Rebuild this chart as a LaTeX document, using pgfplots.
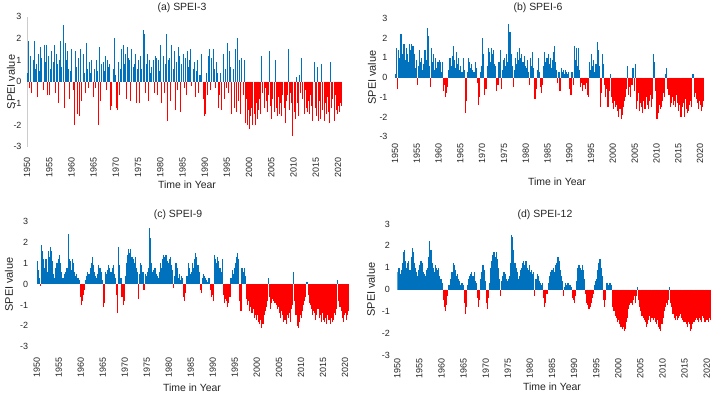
\documentclass[border=0pt]{standalone}
\usepackage{fontspec}
\setmainfont{Liberation Sans}
\usepackage{pgfplots}
\usepackage{pgfplotstable}
\pgfplotsset{compat=1.18}
\definecolor{mblue}{RGB}{0,114,189}
\definecolor{mred}{RGB}{255,0,0}

\pgfplotstableread{
yr q1 q2 q3 q4
1950 0.4 1.9 -0.3 1.2
1951 -0.5 1.0 1.9 0.6
1952 0.8 -0.7 1.3 0.5
1953 1.6 1.1 -0.4 1.7
1954 0.9 1.7 -0.6 1.2
1955 -0.6 0.6 1.4 0.9
1956 1.7 -0.5 1.3 0.8
1957 -1.0 1.0 1.9 0.7
1958 2.6 -1.2 1.8 1.0
1959 1.4 0.6 -0.8 0.5
1960 1.5 -0.4 -2.0 1.4
1961 0.7 -1.5 1.1 -1.6
1962 1.5 -0.9 1.3 0.4
1963 -0.5 1.8 0.6 -0.3
1964 0.9 0.4 1.0 -0.7
1965 0.6 -0.3 1.0 0.5
1966 -2.0 1.6 -0.9 0.8
1967 0.9 0.5 1.2 -0.4
1968 1.0 0.7 0.8 -1.3
1969 -1.1 0.6 2.0 0.3
1970 -1.2 -1.3 0.9 -0.6
1971 0.6 1.5 1.7 0.8
1972 1.3 -0.8 1.6 1.1
1973 1.0 -0.9 1.5 0.7
1974 0.8 1.3 -1.0 0.6
1975 1.0 -1.0 1.2 0.6
1976 2.4 2.2 -0.5 0.8
1977 1.3 -0.9 1.0 0.4
1978 0.7 1.0 -0.5 1.2
1979 1.1 -0.6 1.0 0.5
1980 1.7 -1.0 1.2 -0.5
1981 0.8 2.2 -1.8 1.0
1982 1.1 -0.9 1.7 0.6
1983 1.4 -1.3 0.9 -0.4
1984 1.6 1.2 -1.4 0.8
1985 1.3 -0.3 1.1 -0.6
1986 1.4 0.7 1.0 1.5
1987 -0.2 0.6 0.9 -0.7
1988 0.5 1.0 -0.5 0.3
1989 0.3 1.3 -0.8 -1.6
1990 -1.5 0.4 -0.6 1.2
1991 1.5 -0.4 1.1 1.5
1992 0.6 -0.3 0.9 0.4
1993 -1.2 -0.6 0.4 -1.3
1994 1.3 -0.8 0.6 -0.3
1995 1.8 -0.5 1.4 0.7
1996 -1.5 0.6 -1.2 1.5
1997 -1.4 2.0 -0.9 1.0
1998 -1.5 1.1 -0.6 1.0
1999 -1.9 -0.8 -2.0 -1.3
2000 -2.2 -1.6 -1.2 -2.0
2001 -1.5 -2.0 -1.0 -1.7
2002 -1.3 -0.8 -1.5 1.2
2003 -0.5 -1.2 -0.3 -0.9
2004 -1.4 -0.6 1.4 -1.1
2005 -1.7 -0.8 -1.4 1.0
2006 -1.2 -1.6 -0.7 -1.5
2007 -1.0 -1.6 -0.6 -1.2
2008 -1.9 -0.9 -0.6 1.5
2009 -1.3 -0.5 -1.0 -2.5
2010 -1.4 -1.7 0.2 -1.0
2011 -1.6 0.3 -0.5 1.1
2012 -0.8 -1.5 -0.4 -1.2
2013 -1.4 -0.9 -1.5 -0.6
2014 -1.1 -1.8 0.9 -1.2
2015 -1.6 0.7 -1.8 -0.9
2016 -1.7 0.8 -1.3 -1.8
2017 -1.0 -1.5 -0.7 -1.4
2018 -1.9 0.9 -1.2 -0.8
2019 -1.8 -0.6 -1.3 -1.5
2020 -1.1 -1.4 -1.0 -1.1
}\tabA

\pgfplotstableread{
yr q1 q2 q3 q4
1950 0.2 1.5 -0.6 1.4
1951 1.0 2.2 1.2 1.7
1952 1.7 0.9 1.5 1.2
1953 0.8 1.7 1.4 1.7
1954 1.6 1.2 0.5 0.9
1955 -0.4 0.6 1.4 0.8
1956 1.0 0.4 0.7 1.4
1957 0.9 2.5 2.1 0.6
1958 -0.5 1.5 0.8 1.2
1959 0.4 1.0 0.5 0.8
1960 0.9 0.8 0.3 0.8
1961 -0.7 -0.4 -1.0 -0.8
1962 -0.5 0.4 1.0 0.6
1963 1.1 1.6 0.9 0.5
1964 1.3 0.7 1.0 0.4
1965 0.6 0.3 1.0 0.4
1966 -1.8 -1.2 0.3 1.0
1967 0.8 0.5 0.7 0.4
1968 0.3 0.8 0.5 -0.3
1969 -1.4 -1.0 0.3 0.6
1970 2.0 1.2 -0.9 -0.6
1971 0.6 1.5 1.3 0.8
1972 1.5 1.2 1.4 0.7
1973 0.6 -0.7 -0.4 0.8
1974 1.4 -0.6 0.4 0.9
1975 1.0 0.6 1.2 0.8
1976 2.7 2.3 1.2 0.6
1977 -0.5 0.4 1.0 0.7
1978 1.3 0.9 1.5 1.0
1979 1.2 0.8 1.1 0.6
1980 0.5 0.9 0.3 -0.4
1981 1.0 0.6 1.3 0.5
1982 -1.1 -0.6 0.4 1.0
1983 0.3 -0.5 -0.8 -0.4
1984 0.6 1.3 0.8 1.0
1985 1.2 0.7 1.0 0.5
1986 0.9 1.3 1.6 0.8
1987 0.4 -0.3 0.3 -0.7
1988 0.5 0.3 0.4 0.2
1989 0.4 0.3 0.2 0.3
1990 -0.6 -0.9 0.3 -0.4
1991 1.6 0.9 1.5 0.6
1992 1.5 0.4 -0.5 -0.3
1993 -0.7 -0.4 -0.6 -0.3
1994 -0.9 -1.0 0.8 0.4
1995 1.2 0.6 0.9 0.3
1996 0.7 1.8 1.4 0.6
1997 -1.5 -0.8 1.2 0.7
1998 -0.4 -1.0 -0.6 -1.5
1999 -0.7 0.2 -1.0 -1.3
2000 -1.6 -1.2 -1.5 -1.4
2001 -1.7 -2.0 -1.6 -2.1
2002 -1.9 -1.5 -1.2 -1.0
2003 -0.6 0.6 -0.9 -0.5
2004 -1.0 -0.4 0.5 -0.7
2005 0.7 -1.6 -1.2 -0.8
2006 -1.7 -1.3 -1.5 -1.8
2007 -1.2 -1.6 -1.0 -1.4
2008 -1.6 -1.2 -0.9 -1.5
2009 -1.1 1.2 0.8 -0.7
2010 -2.1 -1.8 -1.4 -1.6
2011 -1.5 -1.2 -0.8 -1.0
2012 0.2 0.5 -0.6 -0.9
2013 -1.5 -1.3 -1.0 -1.4
2014 -1.2 -1.5 -0.9 -1.3
2015 -1.7 -1.4 -2.0 -1.5
2016 -1.3 -2.0 -1.1 -1.6
2017 -1.8 -1.7 -1.4 -1.2
2018 -1.5 0.2 -1.0 -0.8
2019 -1.1 -1.3 -1.6 -1.2
2020 -1.4 -1.7 -1.5 -1.2
}\tabB

\pgfplotstableread{
yr q1 q2 q3 q4
1950 1.1 0.7 0.3 -0.1
1951 1.9 1.6 1.2 0.8
1952 1.2 0.6 1.6 1.3
1953 1.8 1.6 1.1 0.5
1954 0.3 0.8 1.0 1.2
1955 1.4 1.0 0.6 0.3
1956 0.3 0.5 0.6 0.8
1957 2.4 1.2 1.1 0.7
1958 1.2 1.0 0.6 0.4
1959 0.5 0.3 0.2 -0.6
1960 -1.0 -0.8 -0.5 -0.3
1961 0.2 0.4 0.6 0.5
1962 0.8 1.0 1.3 0.9
1963 0.6 0.4 0.3 0.5
1964 0.9 0.8 0.6 0.2
1965 -1.1 -0.9 0.6 0.5
1966 0.7 0.9 0.8 0.6
1967 0.8 0.9 0.5 0.3
1968 -0.5 -1.4 1.8 0.9
1969 0.3 -0.6 -1.0 -0.8
1970 0.4 1.0 1.4 1.7
1971 1.5 1.7 1.3 1.2
1972 1.0 1.3 0.8 0.6
1973 -0.7 0.5 1.0 0.9
1974 0.6 -0.3 0.5 0.4
1975 0.6 0.8 2.7 2.2
1976 1.0 0.6 0.7 0.8
1977 0.5 0.4 0.3 0.6
1978 1.0 0.8 1.2 1.4
1979 1.3 1.4 1.1 1.0
1980 1.2 1.3 0.9 0.7
1981 -0.2 0.4 1.0 0.8
1982 0.3 0.5 0.2 0.4
1983 0.3 -0.6 -0.8 -0.4
1984 0.4 1.0 0.8 0.5
1985 0.6 1.0 0.8 1.2
1986 1.5 1.3 0.9 0.6
1987 -0.3 -0.4 0.3 0.5
1988 0.4 0.3 0.2 0.1
1989 0.3 -0.3 -0.6 -0.5
1990 -0.8 1.4 1.2 1.0
1991 1.3 1.1 0.8 0.6
1992 1.2 -0.5 -0.9 -0.7
1993 -0.8 -1.1 -0.9 -0.6
1994 0.3 0.7 0.5 0.8
1995 1.0 1.3 1.5 1.2
1996 -0.8 -1.3 0.8 0.6
1997 0.8 0.4 -0.7 -1.0
1998 -0.8 -1.3 -1.1 -1.4
1999 -1.2 -1.6 -1.5 -1.7
2000 -1.5 -1.8 -1.9 -1.7
2001 -2.1 -1.9 -1.5 -1.3
2002 -1.1 -0.8 0.3 -0.6
2003 -1.2 -0.9 -0.7 -0.8
2004 -0.9 -1.0 -1.2 -1.1
2005 -1.4 -1.6 -1.3 -1.5
2006 -1.8 -1.7 -1.9 -1.5
2007 -1.6 -1.4 -1.8 -1.2
2008 -1.0 0.6 -0.8 -1.5
2009 -2.0 -2.1 -1.8 -1.5
2010 -1.6 -1.3 -1.0 -0.8
2011 -0.6 0.1 -0.5 -0.9
2012 -1.0 -1.2 -1.5 -1.3
2013 -1.4 -1.7 -1.5 -1.2
2014 -1.6 -1.5 -1.8 -1.4
2015 -1.7 -1.8 -1.6 -1.9
2016 -1.5 -1.7 -1.9 -1.6
2017 -1.8 -1.7 -1.4 -1.5
2018 -1.2 0.2 -0.8 -1.1
2019 -1.3 -1.6 -1.8 -1.5
2020 -1.4 -1.7 -1.5 -1.3
}\tabC

\pgfplotstableread{
yr q1 q2 q3 q4
1950 0.8 1.0 0.7 0.9
1951 1.2 1.7 1.8 1.3
1952 1.0 1.2 1.3 0.9
1953 1.5 1.9 1.7 1.2
1954 1.0 0.8 0.6 0.9
1955 1.1 1.3 1.2 0.8
1956 0.7 0.6 0.9 1.0
1957 1.5 2.2 1.8 1.2
1958 1.0 0.8 1.1 1.0
1959 0.9 1.0 0.6 0.5
1960 0.3 -0.5 -0.8 -1.0
1961 -0.7 -0.3 0.2 0.2
1962 0.5 0.8 1.2 1.1
1963 0.9 0.6 0.7 0.5
1964 0.4 0.2 0.3 0.2
1965 -0.6 -1.1 -0.8 0.2
1966 0.5 0.6 0.7 0.8
1967 0.6 0.8 0.4 0.3
1968 -0.4 -0.8 -0.5 0.5
1969 0.8 1.1 0.9 0.4
1970 -0.6 -0.9 -0.4 0.3
1971 1.0 1.3 1.6 1.7
1972 1.5 1.7 1.4 1.0
1973 0.5 -0.3 0.4 0.6
1974 0.8 0.7 0.5 0.4
1975 0.5 0.6 1.2 2.5
1976 2.4 1.8 1.2 1.0
1977 0.8 0.5 0.6 0.9
1978 1.0 1.2 1.3 1.1
1979 1.3 1.0 0.9 1.1
1980 0.8 0.9 0.7 0.8
1981 -0.3 0.5 0.7 0.6
1982 0.4 0.3 0.2 0.3
1983 -0.4 -0.8 -0.6 -0.2
1984 0.3 0.6 0.8 0.9
1985 0.9 1.0 0.8 1.1
1986 1.2 1.5 1.3 0.9
1987 0.6 0.4 -0.3 0.1
1988 0.3 0.2 0.3 0.2
1989 0.2 0.1 -0.4 -0.5
1990 -0.6 -0.3 0.4 1.0
1991 1.1 1.0 0.9 1.1
1992 0.9 0.5 -0.2 -0.6
1993 -0.7 -0.9 -0.8 -0.6
1994 -0.4 -0.2 0.2 0.4
1995 0.5 0.9 1.2 1.4
1996 1.0 0.6 -0.5 -0.8
1997 -0.5 0.3 0.3 0.2
1998 0.3 0.2 -0.8 -1.0
1999 -1.0 -1.2 -1.3 -1.5
2000 -1.4 -1.6 -1.7 -1.8
2001 -1.7 -1.9 -1.8 -1.5
2002 -1.3 -0.9 -0.7 -0.6
2003 -0.7 -0.5 -0.3 -0.6
2004 -0.3 0.1 -0.5 -0.8
2005 -1.0 -1.2 -1.3 -1.4
2006 -1.5 -1.7 -1.6 -1.4
2007 -1.2 -1.5 -1.3 -1.4
2008 -1.3 -1.5 -1.6 -1.4
2009 -1.7 -1.8 -1.9 -1.6
2010 -1.3 -1.0 -0.8 -0.6
2011 -0.7 -0.5 0.1 -0.6
2012 -0.8 -1.1 -1.3 -1.4
2013 -1.2 -1.4 -1.3 -1.2
2014 -1.1 -1.3 -1.4 -1.5
2015 -1.5 -1.6 -1.7 -1.5
2016 -1.6 -1.9 -1.8 -1.6
2017 -1.5 -1.4 -1.3 -1.4
2018 -1.5 -1.3 -1.4 -1.5
2019 -1.2 -1.3 -1.5 -1.4
2020 -1.4 -1.5 -1.3 -1.4
}\tabD

\newcommand{\qbars}[4]{%
  \addplot[ycomb, draw=mblue, line width=#4, mark=none, restrict y to domain=0:10]
    table[x expr=\thisrow{yr}+#3, y=#2] {#1};
  \addplot[ycomb, draw=mred, line width=#4, mark=none, restrict y to domain=-10:0]
    table[x expr=\thisrow{yr}+#3, y=#2] {#1};
}
\newcommand{\allbars}[2]{%
  \qbars{#1}{q1}{0.125}{#2}\qbars{#1}{q2}{0.375}{#2}%
  \qbars{#1}{q3}{0.625}{#2}\qbars{#1}{q4}{0.875}{#2}}

\pgfplotsset{
  speiax/.style={
    scale only axis,
    anchor=south west,
    xmin=1950, xmax=2021, ymin=-3, ymax=3,
    xtick={1950,1955,...,2020}, ytick={-3,-2,...,3},
    axis lines*=left,
    axis line style={draw=none},
    major tick length=0pt,
    tick label style={font=\fontsize{9}{9}\selectfont, text=black!85},
    xticklabel style={rotate=90, anchor=east},
    /pgf/number format/assume math mode=true,
    /pgf/number format/1000 sep={},
  }
}

\begin{document}
\begin{tikzpicture}
\useasboundingbox (0,0) rectangle (720bp,395bp);
\fill[white] (0,0) rectangle (720bp,395bp);

% (a)
\begin{axis}[speiax, at={(27bp,248.3bp)}, width=315.4bp, height=130bp,
  xticklabel shift=7bp, yticklabel shift=2bp,
  y axis line style={draw=black!20}]
\allbars{\tabA}{1.0bp}
\end{axis}

% (b)
\begin{axis}[speiax, at={(395bp,258.3bp)}, width=309.4bp, height=118.4bp,
  xticklabel shift=3bp, yticklabel shift=4bp]
\allbars{\tabB}{1.12bp}
\end{axis}

% (c)
\begin{axis}[speiax, at={(36.7bp,48.3bp)}, width=312.7bp, height=125bp,
  xticklabel shift=7bp, yticklabel shift=5bp]
\allbars{\tabC}{1.15bp}
\end{axis}

% (d)
\begin{axis}[speiax, at={(397.3bp,40bp)}, width=313.8bp, height=131bp,
  xticklabel shift=0bp, yticklabel shift=4bp]
\allbars{\tabD}{1.15bp}
\end{axis}

\begin{scope}[every node/.style={text=black!85}]
\node[font=\fontsize{10.5}{12}\selectfont] at (182bp,387bp) {(a) SPEI-3};
\node[font=\fontsize{10.5}{12}\selectfont] at (538bp,387bp) {(b) SPEI-6};
\node[font=\fontsize{10.5}{12}\selectfont] at (178bp,180bp) {(c) SPEI-9};
\node[font=\fontsize{10.5}{12}\selectfont] at (545bp,180bp) {(d) SPEI-12};

\node[rotate=90, font=\fontsize{11}{13}\selectfont] at (11bp,313bp) {SPEI value};
\node[rotate=90, font=\fontsize{11}{13}\selectfont] at (372bp,317.5bp) {SPEI value};
\node[rotate=90, font=\fontsize{11}{13}\selectfont] at (9bp,110.5bp) {SPEI value};
\node[rotate=90, font=\fontsize{11}{13}\selectfont] at (371bp,105.5bp) {SPEI value};

\node[font=\fontsize{10.5}{12}\selectfont] at (187bp,210bp) {Time in Year};
\node[font=\fontsize{10.5}{12}\selectfont] at (557bp,213bp) {Time in Year};
\node[font=\fontsize{10.5}{12}\selectfont] at (192bp,7bp) {Time in Year};
\node[font=\fontsize{10.5}{12}\selectfont] at (552bp,8bp) {Time in Year};
\end{scope}
\end{tikzpicture}
\end{document}
